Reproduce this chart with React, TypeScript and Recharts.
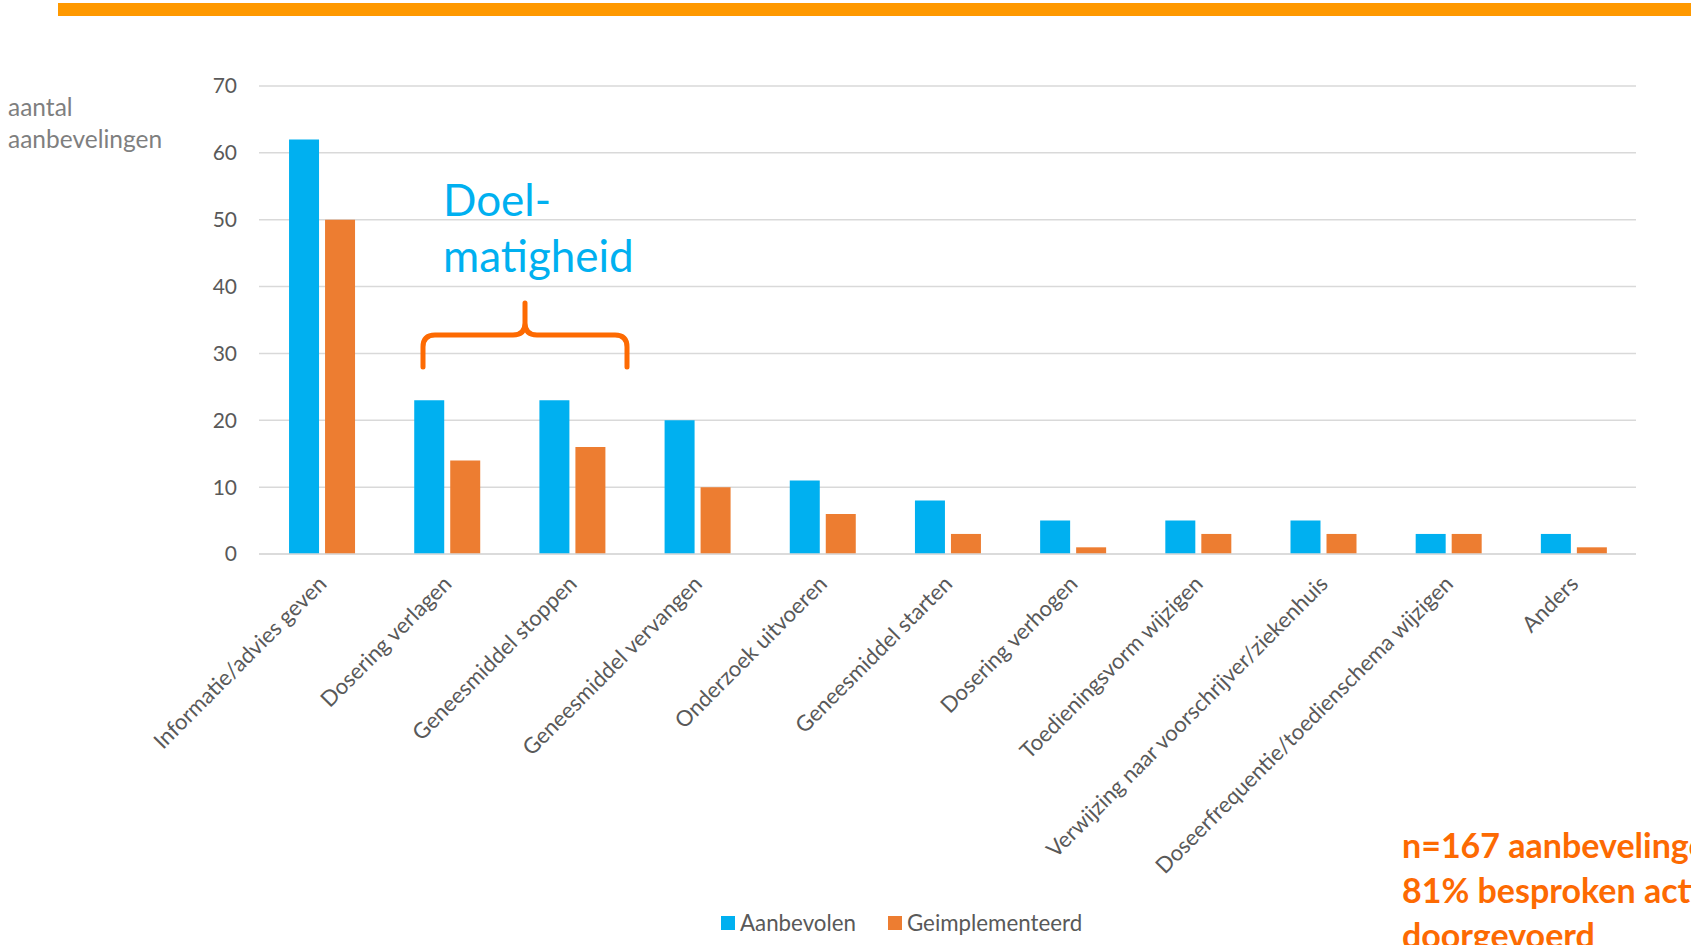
import { BarChart, Bar, XAxis, YAxis, CartesianGrid } from 'recharts';

const categorieen = [
  'Informatie/advies geven',
  'Dosering verlagen',
  'Geneesmiddel stoppen',
  'Geneesmiddel vervangen',
  'Onderzoek uitvoeren',
  'Geneesmiddel starten',
  'Dosering verhogen',
  'Toedieningsvorm wijzigen',
  'Verwijzing naar voorschrijver/ziekenhuis',
  'Doseerfrequentie/toedienschema wijzigen',
  'Anders',
];
const aanbevolen = [62, 23, 23, 20, 11, 8, 5, 5, 5, 3, 3];
const geimplementeerd = [50, 14, 16, 10, 6, 3, 1, 3, 3, 3, 1];
const yTicks = [0, 10, 20, 30, 40, 50, 60, 70];

const BLAUW = '#00b0f0';
const ORANJE = '#ed7d31';
const FONT = 'Lato, "Open Sans", sans-serif';

const data = categorieen.map((naam, i) => ({
  naam,
  Aanbevolen: aanbevolen[i],
  Geimplementeerd: geimplementeerd[i],
}));

const series = [
  { key: 'Aanbevolen', color: BLAUW },
  { key: 'Geimplementeerd', color: ORANJE },
];

const XTick = ({ x, y, payload }: any) => (
  <g transform={`translate(${x + 2},${y + 19})`}>
    <text
      x={0}
      y={0}
      dy={6}
      textAnchor="end"
      transform="rotate(-45)"
      fill="#595959"
      fontSize={22}
      fontFamily={FONT}
    >
      {payload.value}
    </text>
  </g>
);

export default function App() {
  return (
    <div
      style={{
        position: 'absolute',
        left: 0,
        top: 0,
        width: 1691,
        height: 945,
        overflow: 'hidden',
        background: '#fff',
        fontFamily: FONT,
      }}
    >
      {/* oranje balk bovenaan */}
      <div style={{ position: 'absolute', left: 58, top: 3, width: 1633, height: 13, background: '#ff9900' }} />

      <div style={{ position: 'absolute', left: 8, top: 91, fontSize: 24.5, lineHeight: '32px', color: '#7f7f7f' }}>
        aantal<br />aanbevelingen
      </div>

      <BarChart
        width={1691}
        height={945}
        data={data}
        margin={{ top: 86, right: 55, left: 199, bottom: 191 }}
        barCategoryGap="24%"
        barGap={6}
      >
        <CartesianGrid vertical={false} stroke="#d9d9d9" strokeWidth={1.5} />
        <XAxis
          dataKey="naam"
          interval={0}
          height={200}
          tickLine={false}
          axisLine={{ stroke: '#d9d9d9', strokeWidth: 1.5 }}
          tick={<XTick />}
        />
        <YAxis
          width={60}
          domain={[0, 70]}
          ticks={yTicks}
          tickLine={false}
          axisLine={false}
          tickMargin={16}
          tick={{ fill: '#595959', fontSize: 21, fontFamily: FONT }}
        />
        {series.map((s) => (
          <Bar key={s.key} dataKey={s.key} fill={s.color} isAnimationActive={false} />
        ))}
      </BarChart>

      {/* annotatie */}
      <div style={{ position: 'absolute', left: 443, top: 171, fontSize: 44, lineHeight: '56px', color: BLAUW }}>
        Doel-<br />matigheid
      </div>
      <svg style={{ position: 'absolute', left: 0, top: 0 }} width={1691} height={945} pointerEvents="none">
        <path
          d="M 423 367 L 423 347 Q 423 335 435 335 L 513 335 Q 525 335 525 323 L 525 303 M 525 323 Q 525 335 537 335 L 615 335 Q 627 335 627 347 L 627 367"
          fill="none"
          stroke="#fd6a02"
          strokeWidth={5}
          strokeLinecap="round"
        />
      </svg>

      <div
        style={{
          position: 'absolute',
          left: 1402,
          top: 822,
          fontSize: 34,
          fontWeight: 700,
          lineHeight: '45px',
          color: '#fd6a02',
          whiteSpace: 'nowrap',
        }}
      >
        n=167 aanbevelingen<br />81% besproken acties<br />doorgevoerd
      </div>

      {/* legenda */}
      <div
        style={{
          position: 'absolute',
          left: 721,
          top: 909,
          display: 'flex',
          alignItems: 'center',
          fontSize: 22.3,
          color: '#595959',
        }}
      >
        {series.map((s) => (
          <span key={s.key} style={{ display: 'flex', alignItems: 'center', marginRight: 32 }}>
            <span style={{ width: 14, height: 14, background: s.color, marginRight: 5, display: 'inline-block' }} />
            {s.key}
          </span>
        ))}
      </div>
    </div>
  );
}
